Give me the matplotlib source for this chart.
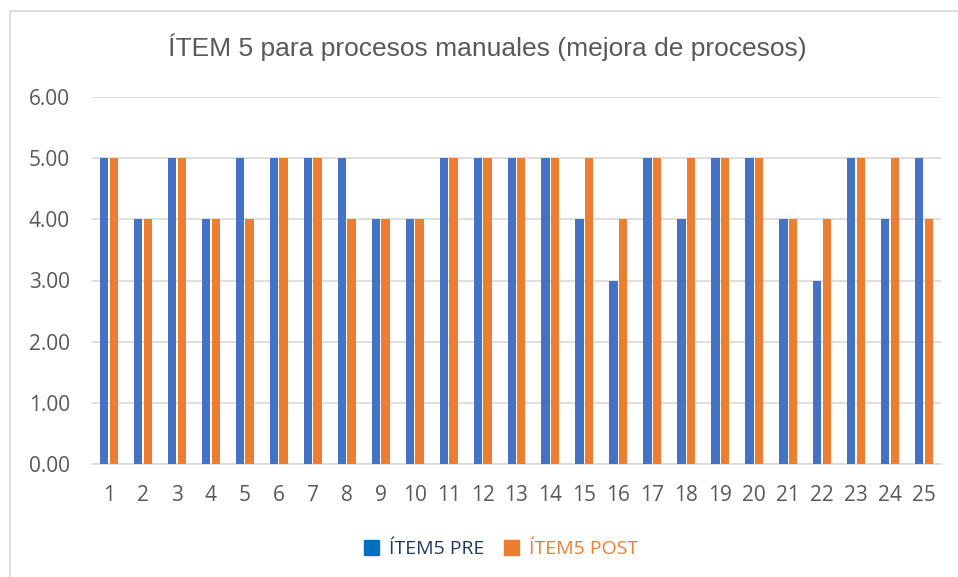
import matplotlib.pyplot as plt
import matplotlib.patches as mpatches
import numpy as np

# Values
items = list(range(1, 26))
pre = [5, 4, 5, 4, 5, 5, 5, 5, 4, 4, 5, 5, 5, 5, 4, 3, 5, 4, 5, 5, 4, 3, 5, 4, 5]
post = [5, 4, 5, 4, 4, 5, 5, 4, 4, 4, 5, 5, 5, 5, 5, 4, 5, 5, 5, 5, 4, 4, 5, 5, 4]
y_ticks = [0, 1, 2, 3, 4, 5, 6]

blue = '#4472C4'
orange = '#ED7D31'
grey_txt = '#595959'

fig = plt.figure(figsize=(9.58, 5.77), dpi=100)
ax = fig.add_axes([92/958, 1-464/577, (941-92)/958, (464-97)/577])

# outer chart frame (runs off the right/bottom edges)
frame = mpatches.Rectangle((10/958, -0.05), 1.0, 1-11/577+0.05, transform=fig.transFigure,
                           fill=False, edgecolor='#D9D9D9', linewidth=1.2)
fig.patches.append(frame)

x = np.array(items)
w = 0.245
ax.bar(x - w/2 - 0.02, pre, width=w, color=blue, zorder=3, label='ÍTEM5 PRE')
ax.bar(x + w/2 + 0.02, post, width=w, color=orange, zorder=3, label='ÍTEM5 POST')

ax.set_xlim(0.5, 25.5)
ax.set_ylim(0, 6)
ax.set_yticks(y_ticks)
ax.set_yticklabels([f'{v:.2f}' for v in y_ticks])
ax.set_xticks(items)
ax.set_xticklabels([str(i) for i in items])
ax.grid(axis='y', color='#D9D9D9', linewidth=1.2, zorder=0)
for s in ['top', 'right', 'left']:
    ax.spines[s].set_visible(False)
ax.spines['bottom'].set_color('#D9D9D9')
ax.spines['bottom'].set_linewidth(1.2)
ax.tick_params(length=0, labelsize=15, colors=grey_txt)
ax.tick_params(axis='x', pad=15)
ax.tick_params(axis='y', pad=16)
for lbl in ax.get_xticklabels() + ax.get_yticklabels():
    lbl.set_family('Open Sans')

fig.text(0.509, 1-47/577, 'ÍTEM 5 para procesos manuales (mejora de procesos)',
         ha='center', va='center', fontsize=19, color=grey_txt, family='Liberation Sans')

handles = [mpatches.Patch(color='#0070C0'), mpatches.Patch(color=orange)]
leg = fig.legend(handles, ['ÍTEM5 PRE', 'ÍTEM5 POST'], loc='center', bbox_to_anchor=(0.523, 1-549/577),
                 ncol=2, frameon=False, handlelength=0.8, handleheight=0.8,
                 handletextpad=0.5, columnspacing=1.0, prop={'family': 'Open Sans', 'size': 14})
leg.get_texts()[0].set_color('#1F3864')
leg.get_texts()[1].set_color(orange)

fig.savefig('out.png', dpi=100)
